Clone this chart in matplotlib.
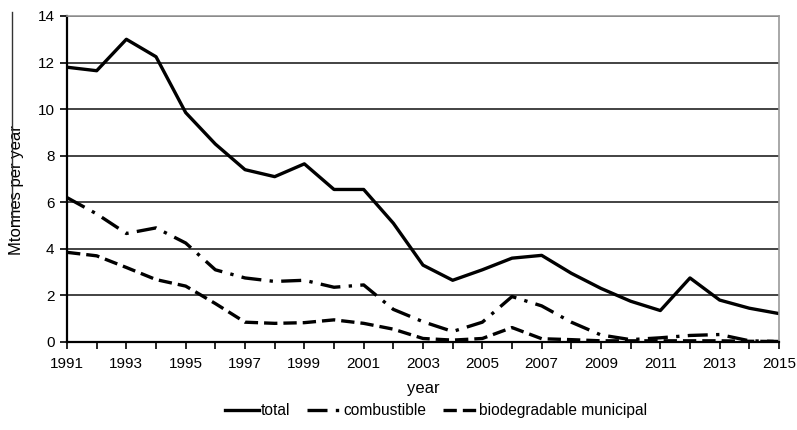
import matplotlib.pyplot as plt
from matplotlib.lines import Line2D

plt.rcParams['font.family'] = ['Liberation Sans', 'DejaVu Sans']

# DATA
years = list(range(1991, 2016))
total = [11.8, 11.65, 13.0, 12.25, 9.85, 8.5, 7.4, 7.1, 7.65, 6.55, 6.55, 5.1,
         3.3, 2.65, 3.1, 3.6, 3.72, 2.95, 2.3, 1.75, 1.35, 2.75, 1.8, 1.45, 1.22]
combustible = [6.2, 5.5, 4.66, 4.9, 4.25, 3.1, 2.75, 2.6, 2.65, 2.35, 2.45, 1.4,
               0.87, 0.45, 0.85, 1.95, 1.55, 0.85, 0.3, 0.1, 0.18, 0.28, 0.32, 0.05, 0.02]
biodegradable = [3.85, 3.7, 3.2, 2.68, 2.4, 1.65, 0.85, 0.8, 0.83, 0.95, 0.8, 0.55,
                 0.15, 0.08, 0.15, 0.62, 0.14, 0.1, 0.05, 0.05, 0.05, 0.05, 0.05, 0.03, 0.02]

fig = plt.figure(figsize=(7.97, 4.30), dpi=100)
ax = fig.add_axes([0.0841, 0.2047, 0.8933, 0.7581])

ax.plot(years, total, color='black', lw=2.4, label='total', solid_joinstyle='round')
ax.plot(years, combustible, color='black', lw=2.4, dashes=[6, 2.5, 1, 2.5],
        label='combustible')
ax.plot(years, biodegradable, color='black', lw=2.4, dashes=[4, 1.8],
        label='biodegradable municipal')

ax.set_xlim(1991, 2015)
ax.set_ylim(0, 14)
ax.set_yticks(range(0, 15, 2))
ax.set_xticks(years)
# only every other year is labelled
ax.set_xticklabels([str(y) if (y - 1991) % 2 == 0 else '' for y in years])
ax.tick_params(axis='both', direction='out', length=5, width=1.2, labelsize=11,
               color='black')
ax.tick_params(axis='x', pad=6)
ax.tick_params(axis='y', pad=4)
ax.yaxis.grid(True, color='#222222', lw=1.2)
ax.set_axisbelow(True)

for side in ['top', 'right']:
    ax.spines[side].set_color('#999999')
    ax.spines[side].set_linewidth(1.2)
for side in ['left', 'bottom']:
    ax.spines[side].set_color('black')
    ax.spines[side].set_linewidth(1.6)

ax.set_xlabel('year', fontsize=12, labelpad=7)
ax.set_ylabel('Mtonnes per year', fontsize=12)
ax.yaxis.set_label_coords(-0.061, 0.465)

ax.legend(loc='upper center', bbox_to_anchor=(0.518, -0.145), ncol=3, frameon=False,
          fontsize=11.2, handlelength=2.2, handletextpad=0.1, columnspacing=1.1)

# stray vertical rule left of the axis label, as in the source scan
fig.add_artist(Line2D([12 / 797, 12 / 797], [1 - 12 / 430, 1 - 224 / 430],
                      transform=fig.transFigure, color='#333333', lw=1))

fig.savefig('out.png', dpi=100)
